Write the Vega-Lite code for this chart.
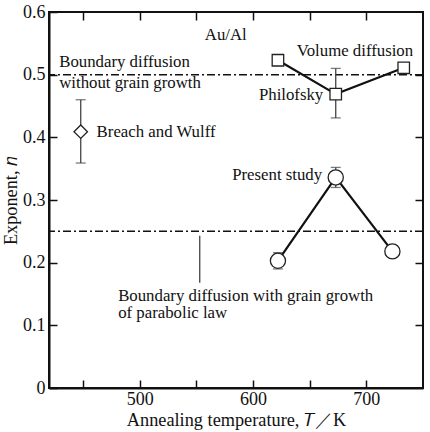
{
  "$schema": "https://vega.github.io/schema/vega-lite/v6.json",
  "width": 374,
  "height": 376,
  "autosize": "none",
  "padding": {"left": 49, "top": 12, "right": 7, "bottom": 44},
  "background": "white",
  "config": {
    "font": "Liberation Serif",
    "view": {"stroke": "#111", "strokeWidth": 2},
    "axis": {
      "domainColor": "#111", "domainWidth": 2, "tickColor": "#111", "tickWidth": 1.5, "tickSize": -8,
      "grid": false, "labelFont": "Liberation Serif", "labelFontSize": 18, "labelColor": "#111",
      "titleFont": "Liberation Serif", "titleFontSize": 18.3, "titleFontWeight": "normal", "titleColor": "#111"
    },
    "text": {"font": "Liberation Serif", "fontSize": 16.8, "color": "#111"}
  },
  "datasets": {
    "pts": [
      {"series": "Volume diffusion", "T": 622, "n": 0.523},
      {"series": "Volume diffusion", "T": 673, "n": 0.469, "lo": 0.431, "hi": 0.51},
      {"series": "Volume diffusion", "T": 733, "n": 0.511},
      {"series": "Breach and Wulff", "T": 448, "n": 0.409, "lo": 0.359, "hi": 0.46},
      {"series": "Present study", "T": 622, "n": 0.203, "lo": 0.19, "hi": 0.216},
      {"series": "Present study", "T": 673, "n": 0.336, "lo": 0.32, "hi": 0.352},
      {"series": "Present study", "T": 723, "n": 0.218, "lo": 0.213, "hi": 0.223}
    ],
    "refs": [{"n": 0.5}, {"n": 0.25}],
    "pointer": [{"T": 553, "n": 0.243, "n2": 0.168}],
    "labelsLeft": [
      {"label": "Boundary diffusion", "T": 429, "n": 0.521},
      {"label": "without grain growth", "T": 429, "n": 0.487},
      {"label": "Breach and Wulff", "T": 462, "n": 0.409},
      {"label": "Volume diffusion", "T": 638.6, "n": 0.537},
      {"label": "Boundary diffusion with grain growth", "T": 481, "n": 0.147},
      {"label": "of parabolic law", "T": 481, "n": 0.119}
    ],
    "labelsRight": [
      {"label": "Philofsky", "T": 662, "n": 0.468},
      {"label": "Present study", "T": 661, "n": 0.34}
    ],
    "labelsCenter": [{"label": "Au/Al", "T": 576, "n": 0.564}]
  },
  "resolve": {"axis": {"x": "independent", "y": "independent"}},
  "layer": [
    {
      "layer": [
        {
          "data": {"name": "refs"},
          "mark": {"type": "rule", "color": "#111", "strokeWidth": 1.5, "strokeDash": [8, 3, 2, 3]},
          "encoding": {
            "y": {"field": "n", "type": "quantitative", "scale": {"domain": [0, 0.6], "nice": false, "zero": false}}
          }
        },
        {
          "data": {"name": "pts"},
          "transform": [{"filter": "datum.series !== 'Breach and Wulff'"}],
          "mark": {"type": "line", "color": "#111", "strokeWidth": 2.2},
          "encoding": {
            "x": {"field": "T", "type": "quantitative", "scale": {"domain": [420, 750], "nice": false, "zero": false},
              "axis": {"orient": "bottom", "values": [450, 500, 550, 600, 650, 700], "labelExpr": "datum.value % 100 == 0 ? datum.value : ''", "labelPadding": 10, "title": "Annealing temperature, 𝑇／K", "titlePadding": 3}},
            "y": {"field": "n", "type": "quantitative", "scale": {"domain": [0, 0.6], "nice": false, "zero": false},
              "axis": {"orient": "left", "values": [0, 0.1, 0.2, 0.3, 0.4, 0.5, 0.6], "labelExpr": "datum.value == 0 ? '0' : format(datum.value, '.1f')", "labelPadding": 12, "title": "Exponent, 𝑛", "titlePadding": 2}},
            "detail": {"field": "series"}
          }
        },
        {
          "data": {"name": "pointer"},
          "mark": {"type": "rule", "color": "#444", "strokeWidth": 1.3},
          "encoding": {
            "x": {"field": "T", "type": "quantitative"},
            "y": {"field": "n", "type": "quantitative"},
            "y2": {"field": "n2"}
          }
        },
        {
          "data": {"name": "pts"},
          "transform": [{"filter": "isValid(datum.lo)"}],
          "mark": {"type": "rule", "color": "#444", "strokeWidth": 1.3},
          "encoding": {
            "x": {"field": "T", "type": "quantitative"},
            "y": {"field": "lo", "type": "quantitative"},
            "y2": {"field": "hi"}
          }
        },
        {
          "data": {"name": "pts"},
          "transform": [{"filter": "isValid(datum.lo)"}],
          "mark": {"type": "tick", "orient": "horizontal", "color": "#444", "size": 10, "thickness": 1.3},
          "encoding": {
            "x": {"field": "T", "type": "quantitative"},
            "y": {"field": "lo", "type": "quantitative"}
          }
        },
        {
          "data": {"name": "pts"},
          "transform": [{"filter": "isValid(datum.hi)"}],
          "mark": {"type": "tick", "orient": "horizontal", "color": "#444", "size": 10, "thickness": 1.3},
          "encoding": {
            "x": {"field": "T", "type": "quantitative"},
            "y": {"field": "hi", "type": "quantitative"}
          }
        },
        {
          "data": {"name": "labelsLeft"},
          "mark": {"type": "text", "align": "left", "baseline": "middle"},
          "encoding": {
            "x": {"field": "T", "type": "quantitative"},
            "y": {"field": "n", "type": "quantitative"},
            "text": {"field": "label"}
          }
        },
        {
          "data": {"name": "labelsRight"},
          "mark": {"type": "text", "align": "right", "baseline": "middle"},
          "encoding": {
            "x": {"field": "T", "type": "quantitative"},
            "y": {"field": "n", "type": "quantitative"},
            "text": {"field": "label"}
          }
        },
        {
          "data": {"name": "labelsCenter"},
          "mark": {"type": "text", "align": "center", "baseline": "middle"},
          "encoding": {
            "x": {"field": "T", "type": "quantitative"},
            "y": {"field": "n", "type": "quantitative"},
            "text": {"field": "label"}
          }
        }
      ]
    },
    {
      "data": {"name": "pts"},
      "mark": {"type": "point", "filled": true, "fill": "white", "stroke": "#222", "strokeWidth": 1.3, "opacity": 1},
      "encoding": {
        "x": {"field": "T", "type": "quantitative",
          "axis": {"orient": "top", "values": [450, 500, 550, 600, 650, 700], "labels": false, "title": null, "domain": false}},
        "y": {"field": "n", "type": "quantitative",
          "axis": {"orient": "right", "values": [0.1, 0.2, 0.3, 0.4, 0.5], "labels": false, "title": null, "domain": false}},
        "shape": {"field": "series", "type": "nominal", "legend": null,
          "scale": {"domain": ["Volume diffusion", "Breach and Wulff", "Present study"], "range": ["square", "diamond", "circle"]}},
        "size": {"field": "series", "type": "nominal", "legend": null,
          "scale": {"domain": ["Volume diffusion", "Breach and Wulff", "Present study"], "range": [132, 230, 125]}}
      }
    }
  ]
}
